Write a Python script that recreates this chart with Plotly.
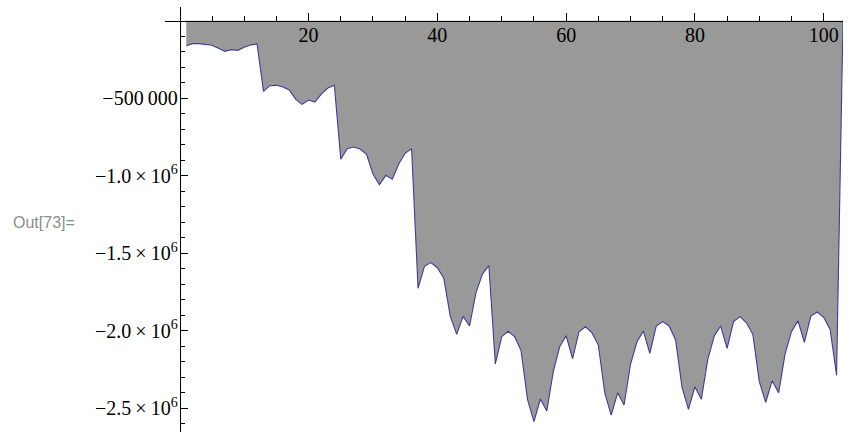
import plotly.graph_objects as go

# data
x_vals = list(range(1, 104))
y_vals = [
    -160600, -147600, -147600, -151700, -158000, -177500, -197000, -186000, -190500, -171000, -156000, -149700,
    -455000, -418600, -416400, -427000, -446500, -506600, -539000, -511000, -524000, -472000, -433600, -416400,
    -893600, -825000, -814000, -827000, -861500, -988500, -1057000, -997000, -1022600, -924000, -855000, -825000,
    -1726000, -1584000, -1560000, -1593000, -1661000, -1905000, -2023000, -1907000, -1969000, -1754000, -1634000, -1580000,
    -2214000, -2038000, -2003000, -2038000, -2128000, -2442000, -2586000, -2440000, -2517000, -2264000, -2103000, -2032000,
    -2180000, -2006000, -1974000, -2012000, -2092000, -2400000, -2544000, -2400000, -2479000, -2216000, -2071000, -2002000,
    -2146000, -1969000, -1941000, -1969000, -2059000, -2365000, -2507000, -2361000, -2442000, -2184000, -2034000, -1969000,
    -2113000, -1941000, -1909000, -1948000, -2023000, -2328000, -2461000, -2322000, -2400000, -2150000, -2006000, -1935000,
    -2074000, -1905000, -1879000, -1913000, -1991000, -2286000, 0,
]

x_major = [20, 40, 60, 80, 100]
x_minor = [v for v in range(5, 105, 5) if v not in x_major]
y_major = [-500000, -1000000, -1500000, -2000000, -2500000]
y_major_text = ["\u2212500\u2009000",
                "\u22121.0\u2009\u00d7\u200910<sup>6</sup>",
                "\u22121.5\u2009\u00d7\u200910<sup>6</sup>",
                "\u22122.0\u2009\u00d7\u200910<sup>6</sup>",
                "\u22122.5\u2009\u00d7\u200910<sup>6</sup>"]
y_minor = [-k * 100000 for k in range(1, 27) if (k % 5) != 0]

x_range = [-2.3, 103.0]
y_range = [-2653000, 89000]

fig = go.Figure()
fig.add_trace(go.Scatter(
    x=x_vals, y=y_vals, mode="lines",
    line=dict(color="#3d3d99", width=1.1),
    fill="tozeroy", fillcolor="#999999",
    showlegend=False, hoverinfo="skip",
))

serif = "Liberation Serif"
xpos = (0 - y_range[0]) / (y_range[1] - y_range[0])
ypos = (0 - x_range[0]) / (x_range[1] - x_range[0])

fig.update_layout(
    width=851, height=432,
    margin=dict(l=165, r=8, t=7, b=0, pad=0),
    paper_bgcolor="white", plot_bgcolor="white",
    xaxis=dict(
        range=x_range, showgrid=False, zeroline=False,
        showline=True, linecolor="black", linewidth=1.3,
        anchor="free", position=xpos, side="bottom",
        tickmode="array", tickvals=x_major, ticktext=[str(v) for v in x_major],
        ticks="inside", ticklen=8, tickwidth=1.2, tickcolor="black",
        ticklabelstandoff=-4,
        tickfont=dict(family=serif, size=20, color="black"),
        minor=dict(tickmode="array", tickvals=x_minor, ticks="inside",
                   ticklen=4.5, tickwidth=1.1, tickcolor="black", showgrid=False),
    ),
    yaxis=dict(
        range=y_range, showgrid=False, zeroline=False,
        showline=True, linecolor="black", linewidth=1.3,
        anchor="free", position=ypos, side="left",
        tickmode="array", tickvals=y_major, ticktext=y_major_text,
        ticks="inside", ticklen=7, tickwidth=1.2, tickcolor="black",
        ticklabelstandoff=-2,
        tickfont=dict(family=serif, size=20, color="black"),
        minor=dict(tickmode="array", tickvals=y_minor, ticks="inside",
                   ticklen=4.3, tickwidth=1.1, tickcolor="black", showgrid=False),
    ),
    annotations=[dict(
        text="Out[73]=", xref="paper", yref="paper",
        x=(11 - 165) / 678, y=1 - (222 - 7) / 425,
        xanchor="left", yanchor="middle", showarrow=False,
        font=dict(family="Liberation Sans", size=16, color="#8c8c8c"),
    )],
)

fig.write_html("out.html", config={"displayModeBar": False},
               post_script="document.body.style.margin='0';document.body.style.padding='0';")
